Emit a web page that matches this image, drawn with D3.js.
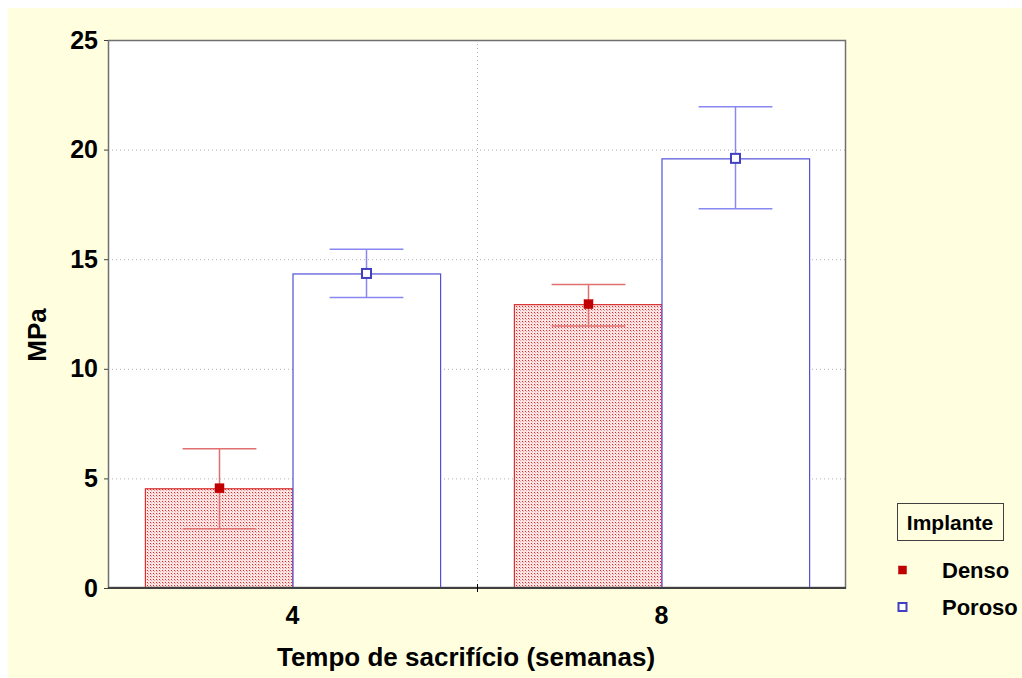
<!DOCTYPE html>
<html><head><meta charset="utf-8">
<script src="https://cdn.jsdelivr.net/npm/d3@7/dist/d3.min.js"></script>
<style>body{margin:0;background:#fff}svg{display:block}text{font-family:"Liberation Sans",Arial,sans-serif;font-weight:bold}</style>
</head><body><svg id="c" width="1022" height="678"></svg>
<script>
const categories = ["4", "8"];
const seriesNames = ["Denso", "Poroso"];
const densoMean = [4.55, 12.95];
const densoUpper = [6.35, 13.85];
const densoLower = [2.7, 11.95];
const porosoMean = [14.35, 19.6];
const porosoUpper = [15.45, 21.95];
const porosoLower = [13.25, 17.3];
const yTicks = [0, 5, 10, 15, 20, 25];

const svg = d3.select("#c");
svg.append("rect").attr("x", 8).attr("y", 8).attr("width", 1014).attr("height", 670).attr("fill", "#ffffe0");

const L = 108, T = 40, R = 846, B = 588;
const x = d3.scaleBand().domain(categories).range([L, R]);
const xs = d3.scaleBand().domain(seriesNames).range([0, x.bandwidth()]).paddingOuter(0.25);
const y = d3.scaleLinear().domain([0, 25]).range([B, T]);

const defs = svg.append("defs");
const pat = defs.append("pattern").attr("id", "dots").attr("patternUnits", "userSpaceOnUse").attr("width", 3).attr("height", 3);
pat.append("rect").attr("width", 3).attr("height", 3).attr("fill", "#fbe4e4");
pat.append("rect").attr("width", 1).attr("height", 1).attr("fill", "#e02828");
pat.append("rect").attr("x", 1).attr("y", 1).attr("width", 1).attr("height", 1).attr("fill", "#f4a0a0");

svg.append("rect").attr("x", L).attr("y", T).attr("width", R - L).attr("height", B - T).attr("fill", "#fff");

// grid
const g = svg.append("g");
g.selectAll("line.h").data(yTicks.filter(d => d > 0 && d < 25)).join("line")
  .attr("x1", L).attr("x2", R).attr("y1", d => y(d) + 0.5).attr("y2", d => y(d) + 0.5)
  .attr("stroke", "#b0b0b0").attr("stroke-dasharray", "1,3");
g.append("line").attr("x1", L + x.bandwidth() + 0.5).attr("x2", L + x.bandwidth() + 0.5).attr("y1", T).attr("y2", B)
  .attr("stroke", "#b0b0b0").attr("stroke-dasharray", "1,3");

const series = [
  {name: "Denso", mean: densoMean, up: densoUpper, lo: densoLower, fill: "url(#dots)", stroke: "#d83030", err: "#e07070", mark: "#c00000", markFill: "#c00000"},
  {name: "Poroso", mean: porosoMean, up: porosoUpper, lo: porosoLower, fill: "#ffffff", stroke: "#5050d8", err: "#8888f0", mark: "#4040c0", markFill: "#ffffff"}
];

series.forEach(s => {
  const data = categories.map((c, i) => ({c, v: s.mean[i], u: s.up[i], l: s.lo[i]}));
  const gx = d => x(d.c) + xs(s.name);
  svg.append("g").selectAll("rect").data(data).join("rect")
    .attr("x", d => gx(d) + 0.5).attr("y", d => y(d.v) + 0.5)
    .attr("width", xs.bandwidth()).attr("height", d => B - y(d.v) - 0.5)
    .attr("fill", s.fill).attr("stroke", s.stroke).attr("stroke-width", 1.2);
});
series.forEach(s => {
  const data = categories.map((c, i) => ({c, v: s.mean[i], u: s.up[i], l: s.lo[i]}));
  const cx = d => Math.round(x(d.c) + xs(s.name) + xs.bandwidth() / 2) + 0.5;
  const eg = svg.append("g").attr("stroke", s.err).attr("stroke-width", 1.5);
  const w = xs.bandwidth() / 4;
  eg.selectAll("line.v").data(data).join("line").attr("x1", cx).attr("x2", cx).attr("y1", d => y(d.u)).attr("y2", d => y(d.l));
  eg.selectAll("line.t").data(data).join("line").attr("x1", d => cx(d) - w).attr("x2", d => cx(d) + w).attr("y1", d => y(d.u)).attr("y2", d => y(d.u));
  eg.selectAll("line.b").data(data).join("line").attr("x1", d => cx(d) - w).attr("x2", d => cx(d) + w).attr("y1", d => y(d.l)).attr("y2", d => y(d.l));
  svg.append("g").selectAll("rect").data(data).join("rect")
    .attr("x", d => cx(d) - 4.5).attr("y", d => y(d.v) - 4.5).attr("width", 9).attr("height", 9)
    .attr("fill", s.markFill).attr("stroke", s.mark).attr("stroke-width", s.name === "Poroso" ? 2 : 0.5);
});

// frame
svg.append("rect").attr("x", L + 0.5).attr("y", T + 0.5).attr("width", R - L - 1).attr("height", B - T - 1)
  .attr("fill", "none").attr("stroke", "#707070").attr("stroke-width", 1.5);
svg.append("line").attr("x1", L).attr("x2", R).attr("y1", B).attr("y2", B).attr("stroke", "#404040").attr("stroke-width", 2);

// axes
const yAxis = d3.axisLeft(y).tickValues(yTicks).tickSize(4).tickPadding(6);
const ya = svg.append("g").attr("transform", `translate(${L},0)`).call(yAxis);
ya.select(".domain").remove();
ya.selectAll("line").attr("stroke", "#404040");
ya.selectAll("text").attr("font-size", 25).attr("fill", "#000").attr("font-family", "Liberation Sans, Arial, sans-serif").attr("font-weight", "bold");

const xAxis = d3.axisBottom(x).tickSize(0).tickPadding(18);
const xa = svg.append("g").attr("transform", `translate(0,${B})`).call(xAxis);
xa.select(".domain").remove();
xa.selectAll("text").attr("font-size", 25).attr("fill", "#000").attr("font-family", "Liberation Sans, Arial, sans-serif").attr("font-weight", "bold");
svg.append("line").attr("x1", L + x.bandwidth() + 0.5).attr("x2", L + x.bandwidth() + 0.5).attr("y1", B - 4).attr("y2", B + 4).attr("stroke", "#000");

svg.append("text").attr("x", 466).attr("y", 666).attr("text-anchor", "middle").attr("font-size", 26).text("Tempo de sacrifício (semanas)");
svg.append("text").attr("transform", `translate(46,${(T + B) / 2 + 21}) rotate(-90)`).attr("text-anchor", "middle").attr("font-size", 26).text("MPa");

// legend
svg.append("rect").attr("x", 897.5).attr("y", 503.5).attr("width", 106).attr("height", 37).attr("fill", "none").attr("stroke", "#404040");
svg.append("text").attr("x", 950).attr("y", 530).attr("text-anchor", "middle").attr("font-size", 21).text("Implante");
series.forEach((s, i) => {
  const ly = 570 + i * 37;
  svg.append("rect").attr("x", 898.5).attr("y", ly - 4).attr("width", 8).attr("height", 8)
    .attr("fill", s.markFill).attr("stroke", s.mark).attr("stroke-width", s.name === "Poroso" ? 2 : 0.5);
  svg.append("text").attr("x", 942).attr("y", ly + 8).attr("font-size", 22).text(s.name);
});
</script></body></html>
